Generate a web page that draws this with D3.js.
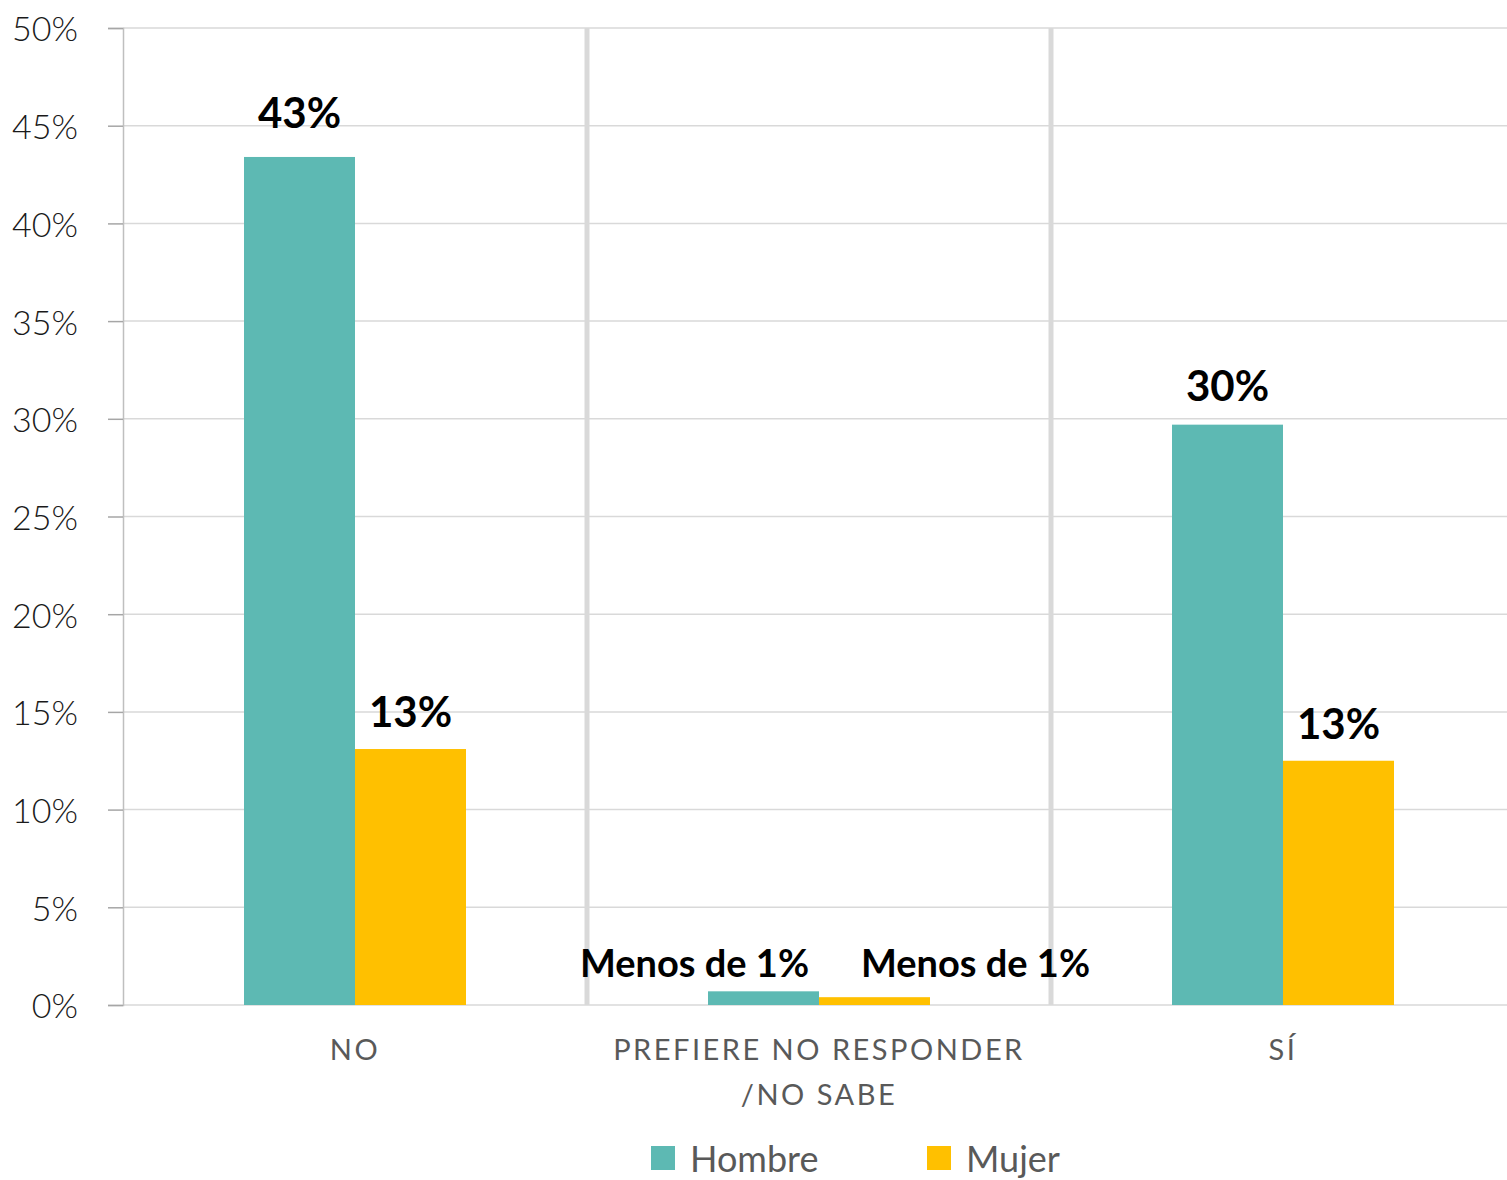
<!DOCTYPE html>
<html><head><meta charset="utf-8">
<script src="https://cdn.jsdelivr.net/npm/d3@7"></script>
<style>
html,body{margin:0;padding:0;background:#fff;}
svg{display:block;font-family:Lato,"Open Sans",sans-serif;}
</style></head>
<body><svg id="c" width="1507" height="1180"></svg>
<script>
const categories = ["NO", "PREFIERE NO RESPONDER\n/NO SABE", "SÍ"];
const series = ["Hombre", "Mujer"];
const hombre = [43.4, 0.7, 29.7];
const mujer = [13.1, 0.4, 12.5];
const hombreLabels = ["43%", "Menos de 1%", "30%"];
const mujerLabels = ["13%", "Menos de 1%", "13%"];
const yTicks = [0, 5, 10, 15, 20, 25, 30, 35, 40, 45, 50];
const colors = ["#5DB9B3", "#FFC000"];

(function(){
const svg = d3.select("#c");
const mLeft = 123, mTop = 28, mBottom = 1005;
const bandW = 464;
const x0 = d3.scaleBand().domain(categories).range([mLeft, mLeft + bandW * categories.length]).padding(0);
const x1 = d3.scaleBand().domain(series).range([0, 222]).padding(0);
const y = d3.scaleLinear().domain([0, 50]).range([mBottom, mTop]);

// gridlines
svg.append("g").selectAll("line").data(yTicks).join("line")
  .attr("x1", mLeft).attr("x2", 1507)
  .attr("y1", d => y(d)).attr("y2", d => y(d))
  .attr("stroke", "#d9d9d9").attr("stroke-width", 1.5);

// category separators
svg.append("g").selectAll("line").data(categories.slice(1)).join("line")
  .attr("x1", d => x0(d)).attr("x2", d => x0(d))
  .attr("y1", mTop).attr("y2", mBottom)
  .attr("stroke", "#d9d9d9").attr("stroke-width", 5);

// y axis
const yAxis = d3.axisLeft(y).tickValues(yTicks).tickSize(15).tickPadding(30).tickFormat(d => d + "%");
const ga = svg.append("g").attr("transform", `translate(${mLeft},0)`).call(yAxis);
ga.select(".domain").attr("stroke", "#bfbfbf").attr("stroke-width", 1.5);
ga.selectAll(".tick line").attr("stroke", "#a6a6a6").attr("stroke-width", 1.5);
ga.selectAll(".tick text").attr("font-family", "Lato").attr("font-weight", 300)
  .attr("font-size", 34).attr("fill", "#1a1a1a").attr("dy", "0.38em");

// bars
const data = categories.map((c, i) => ({c, vals: [
  {s: "Hombre", v: hombre[i], lab: hombreLabels[i]},
  {s: "Mujer", v: mujer[i], lab: mujerLabels[i]}]}));
const off = (x0.bandwidth() - 222) / 2;
const groups = svg.append("g").selectAll("g").data(data).join("g")
  .attr("transform", d => `translate(${x0(d.c) + off},0)`);
groups.selectAll("rect").data(d => d.vals).join("rect")
  .attr("x", d => x1(d.s)).attr("width", x1.bandwidth())
  .attr("y", d => y(d.v)).attr("height", d => mBottom - y(d.v))
  .attr("fill", (d, i) => colors[i]);

// labels
groups.each(function(g) {
  const small = g.vals.every(v => v.v < 1);
  d3.select(this).selectAll("text").data(g.vals).join("text")
    .attr("x", (d, i) => x1(d.s) + x1.bandwidth() / 2 + (small ? (i === 0 ? -69 : 101) : 0))
    .attr("y", (d, i) => small ? y(0) - 28 : y(d.v) - (i === 0 ? (d.v > 40 ? 29 : 24) : 22))
    .attr("text-anchor", "middle")
    .attr("font-weight", 700).attr("font-size", small ? 38 : 42)
    .attr("fill", "#000").text(d => d.lab);
});

// category labels
const cl = svg.append("g").selectAll("text").data(categories).join("text")
  .attr("x", d => x0(d) + x0.bandwidth() / 2)
  .attr("y", 1060)
  .attr("text-anchor", "middle").attr("font-size", 29).attr("letter-spacing", 2.5)
  .attr("fill", "#595959");
cl.each(function(d) {
  const lines = d.split("\n");
  d3.select(this).selectAll("tspan").data(lines).join("tspan")
    .attr("x", x0(d) + x0.bandwidth() / 2)
    .attr("dy", (l, i) => i === 0 ? 0 : 45).text(l => l);
});

// legend
const legX = [651, 927];
const lg = svg.append("g").selectAll("g").data(series).join("g")
  .attr("transform", (d, i) => `translate(${legX[i]},1146)`);
lg.append("rect").attr("width", 24).attr("height", 24).attr("fill", (d, i) => colors[i]);
lg.append("text").attr("x", 39).attr("y", 26).attr("font-size", 36).attr("fill", "#595959").text(d => d);
})();
</script></body></html>
